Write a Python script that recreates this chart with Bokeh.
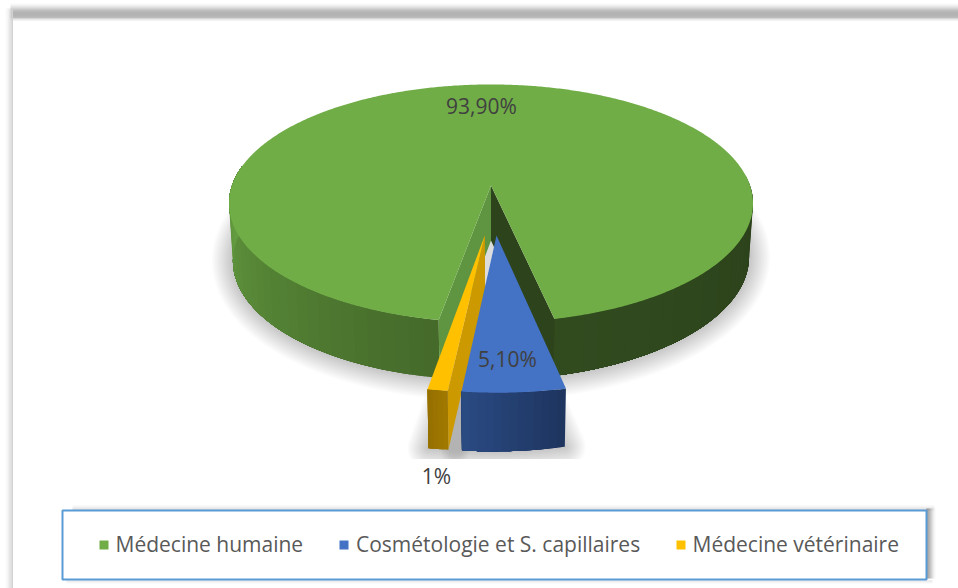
import numpy as np
from bokeh.plotting import figure
from bokeh.models import Range1d
from bokeh.core.properties import value
from bokeh.embed import file_html
from bokeh.resources import INLINE

# ---- data -------------------------------------------------------------
categories = ["Médecine humaine", "Cosmétologie et S. capillaires", "Médecine vétérinaire"]
shares = [93.9, 5.1, 1.0]
share_labels = ["93,90%", "5,10%", "1%"]
top_colors = ["#70AD47", "#4472C4", "#FFC000"]

# ---- layout / projection ----------------------------------------------
W, H = 958, 588
FIRST_ANGLE = 189.9          # clockwise from the back of the disc
CX, CY = 490.5, 185.0        # projected disc centre
AX, AY, K = 259.0, 116.3, 0.151
DROP = 55.0
explode = [(0.0, 0.0), (0.02, 0.404), (-0.022, 0.40)]


def project(u, v, bottom=False):
    u, v = np.asarray(u, float), np.asarray(v, float)
    w = 1 - K * v
    x = AX * u / w
    y = AY * v / w
    if bottom:
        y = y + DROP * (1 + 0.25 * (1 / w - 1)) - 2.0 * u
        x = x * 0.985
    return CX + x, CY + y


def rim(deg, off, bottom=False):
    t = np.radians(deg)
    return project(np.sin(t) + off[0], -np.cos(t) + off[1], bottom)


def mix(a, b, f):
    ca = [int(a[i:i + 2], 16) for i in (1, 3, 5)]
    cb = [int(b[i:i + 2], 16) for i in (1, 3, 5)]
    return "#%02x%02x%02x" % tuple(int(round(p + (q - p) * f)) for p, q in zip(ca, cb))


def arc(a, b, n=None):
    return np.linspace(a, b, n or max(2, int(abs(b - a) * 2) + 2))


sweeps = [s / sum(shares) * 360 for s in shares]
starts = [FIRST_ANGLE + sum(sweeps[:i]) for i in range(3)]
ends = [a + b for a, b in zip(starts, sweeps)]

p = figure(width=W, height=H, output_backend="svg", toolbar_location=None,
           x_range=Range1d(0, W), y_range=Range1d(H, 0),
           min_border=0, outline_line_color=None, background_fill_color="white",
           border_fill_color="white")
p.axis.visible = False
p.grid.visible = False

# ---- page frame -------------------------------------------------------
band_y = list(range(3, 20))
band_c = ["#fafafa", "#f2f2f2", "#e8e8e8", "#dcdcdc", "#cfcfcf", "#c0c0c0", "#b2b2b2",
          "#a6a6a6", "#9e9e9e", "#999999", "#999999", "#999999", "#9b9b9b", "#a2a2a2",
          "#a8a8a8", "#d8d8d8", "#e8e8e8"]
p.quad(left=[10] * len(band_y), right=[W] * len(band_y), top=band_y,
       bottom=[y + 1 for y in band_y], fill_color=band_c, line_color=None)
p.quad(left=[5, 6, 7, 8, 9, 10, 11], right=[6, 7, 8, 9, 10, 11, 12.5], top=[8] * 7, bottom=[H] * 7,
       fill_color=["#fbfbfb", "#f6f6f6", "#f0f0f0", "#e8e8e8", "#dedede", "#d6d6d6", "#d2d2d2"],
       line_color=None)

# ---- shadows ----------------------------------------------------------
outline = [rim(arc(starts[0], ends[0]), explode[0], True)]
for i in (1, 2):
    a = arc(starts[i], ends[i])
    x0, y0 = rim(a, explode[i], True)
    ax, ay = project(explode[i][0], explode[i][1], True)
    outline.append((np.r_[ax, x0], np.r_[ay, y0]))
for lw in range(3, 45, 3):
    p.patches([list(o[0]) for o in outline], [list(o[1]) for o in outline],
              fill_color="#000000", fill_alpha=0.0, line_color="#000000", line_alpha=0.016,
              line_width=lw, line_join="round")
p.quad(left=[395], right=[600], top=[458.5], bottom=[505], fill_color="white", line_color=None)

# the pale gap seen between the two detached slices
gx, gy = [], []
for i, a in ((2, ends[2] - sweeps[2]), (1, ends[1])):
    ax, ay = project(explode[i][0], explode[i][1])
    ex, ey = rim(np.array([a]), explode[i])
    gx += [float(ax), float(ex[0])]
    gy += [float(ay), float(ey[0])]
p.patch([gx[0], gx[2], gx[3], gx[1]], [gy[0], gy[2], gy[3], gy[1]], fill_color="#dcdcdc", line_color=None)

# ---- walls ------------------------------------------------------------
wall_x, wall_y, wall_c = [], [], []


def add_wall(a0, a1, off, c0, c1, step=3.0):
    n = max(2, int(abs(a1 - a0) / step) + 1)
    edges = np.linspace(a0, a1, n + 1)
    for j in range(n):
        seg = np.linspace(edges[j], a1, 40)   # each band runs on to the end: no seams
        tx, ty = rim(seg, off)
        bx, by = rim(seg[::-1], off, True)
        wall_x.append(list(tx) + list(bx))
        wall_y.append(list(ty) + list(by))
        wall_c.append(mix(c0, c1, j / max(1, n - 1)))


def add_inner(a, off, c):
    ax, ay = project(off[0], off[1])
    bx, by = project(off[0], off[1], True)
    tx, ty = rim(np.array([a]), off)
    ux, uy = rim(np.array([a]), off, True)
    wall_x.append([float(ax), float(tx[0]), float(ux[0]), float(bx)])
    wall_y.append([float(ay), float(ty[0]), float(uy[0]), float(by)])
    wall_c.append(c)


add_wall(85, ends[0] % 360, explode[0], "#2b401a", "#314b1f")        # green, right side
add_wall(starts[0], 280, explode[0], "#456a2a", "#66a042")           # green, left side
add_inner(starts[0], explode[0], "#5f9440")
add_inner(ends[0] % 360, explode[0], "#2d431b")
add_inner(ends[2] - sweeps[2], explode[2], "#cc9900")                # yellow inner face
add_wall(starts[2], ends[2], explode[2], "#a07800", "#977100", step=1)
add_wall(starts[1], ends[1], explode[1], "#1e3560", "#2a4a82", step=1.5)
p.patches(wall_x, wall_y, fill_color=wall_c, line_color=None)

# ---- top faces --------------------------------------------------------
face_x, face_y = [], []
for i in (0, 2, 1):
    ax, ay = project(explode[i][0], explode[i][1])
    ex, ey = rim(arc(starts[i], ends[i]), explode[i])
    face_x.append([float(ax)] + list(ex))
    face_y.append([float(ay)] + list(ey))
p.patches(face_x, face_y, fill_color=[top_colors[i] for i in (0, 2, 1)], line_color=None)

# ---- value labels -----------------------------------------------------
p.text(x=[481, 507, 436], y=[105.5, 358.5, 475], text=share_labels,
       text_font=value("Open Sans"), text_font_size="21px", text_color="#404040",
       text_align="center", text_baseline="middle")

# ---- legend -----------------------------------------------------------
shade_top = ["#f7f7f7", "#efefef", "#e6e6e6", "#dcdcdc", "#cfcfcf"]
p.quad(left=[72] * 5, right=[934] * 5, top=list(range(505, 510)), bottom=list(range(506, 511)),
       fill_color=shade_top, line_color=None)
shade_right = ["#7f7f7f", "#888888", "#969696", "#a6a6a6", "#b8b8b8", "#cbcbcb", "#dddddd", "#ececec", "#f7f7f7"]
p.quad(left=list(range(926, 935)), right=list(range(927, 936)), top=[508] * 9, bottom=[578] * 9,
       fill_color=shade_right, line_color=None)
p.quad(left=[66] * 3, right=[932] * 3, top=[580, 581, 582], bottom=[581, 582, 583],
       fill_color=["#dedede", "#ececec", "#f7f7f7"], line_color=None)
p.quad(left=[62], right=[926], top=[510], bottom=[579], fill_color="white",
       line_color="#5B9BD5", line_width=2)
p.quad(left=[99, 339, 676], right=[108, 348, 685], top=[540, 540, 540], bottom=[549, 549, 549],
       fill_color=top_colors, line_color=None)
p.text(x=[115, 355.5, 692], y=[543.5, 543.5, 543.5], text=categories,
       text_font=value("Open Sans"), text_font_size="21px", text_color="#595959",
       text_align="left", text_baseline="middle")

open("out.html", "w").write(file_html(p, INLINE))
